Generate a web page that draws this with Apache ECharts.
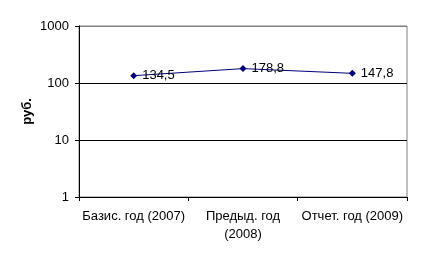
<!DOCTYPE html>
<html><head><meta charset="utf-8">
<script src="https://cdn.jsdelivr.net/npm/echarts@6/dist/echarts.min.js"></script>
<style>html,body{margin:0;padding:0;background:#fff}#c{width:423px;height:260px}</style>
</head><body><div id="c"></div>
<script>
var categories = ['Базис. год (2007)', 'Предыд. год\n(2008)', 'Отчет. год (2009)'];
var values = [134.5, 178.8, 147.8];
var labels = ['134,5', '178,8', '147,8'];
var yName = 'руб.';

var chart = echarts.init(document.getElementById('c'), null, {renderer: 'canvas'});
var font = 'Liberation Sans, Arial, sans-serif';
chart.setOption({
  animation: false,
  grid: {left: 79, right: 16, top: 26, bottom: 63, show: true, borderColor: '#808080', borderWidth: 1},
  xAxis: {
    type: 'category', data: categories, boundaryGap: true,
    axisLine: {lineStyle: {color: '#000', width: 1}},
    axisTick: {show: true, length: 4, lineStyle: {color: '#000'}},
    axisLabel: {color: '#000', fontFamily: font, fontSize: 13, margin: 10, lineHeight: 18, interval: 0}
  },
  yAxis: {
    type: 'log', logBase: 10, min: 1, max: 1000,
    name: yName, nameLocation: 'middle', nameGap: 45, nameRotate: 90, nameMoveOverlap: false,
    nameTextStyle: {color: '#000', fontFamily: font, fontSize: 13, fontWeight: 'bold'},
    axisLine: {show: true, lineStyle: {color: '#000', width: 1}},
    axisTick: {show: true, length: 4, lineStyle: {color: '#000'}},
    axisLabel: {color: '#000', fontFamily: font, fontSize: 13, margin: 10,
      formatter: function (v) { return String(Math.round(v)); }},
    splitLine: {show: true, lineStyle: {color: ['#000', '#000', '#000', '#808080'], width: 1}}
  },
  series: [{
    type: 'line', data: values,
    symbol: 'diamond', symbolSize: 7,
    lineStyle: {color: '#000080', width: 1},
    itemStyle: {color: '#000080'},
    label: {show: true, position: 'right', distance: 5, color: '#000', fontFamily: font, fontSize: 13,
      formatter: function (p) { return labels[p.dataIndex]; }}
  }]
});
</script></body></html>
